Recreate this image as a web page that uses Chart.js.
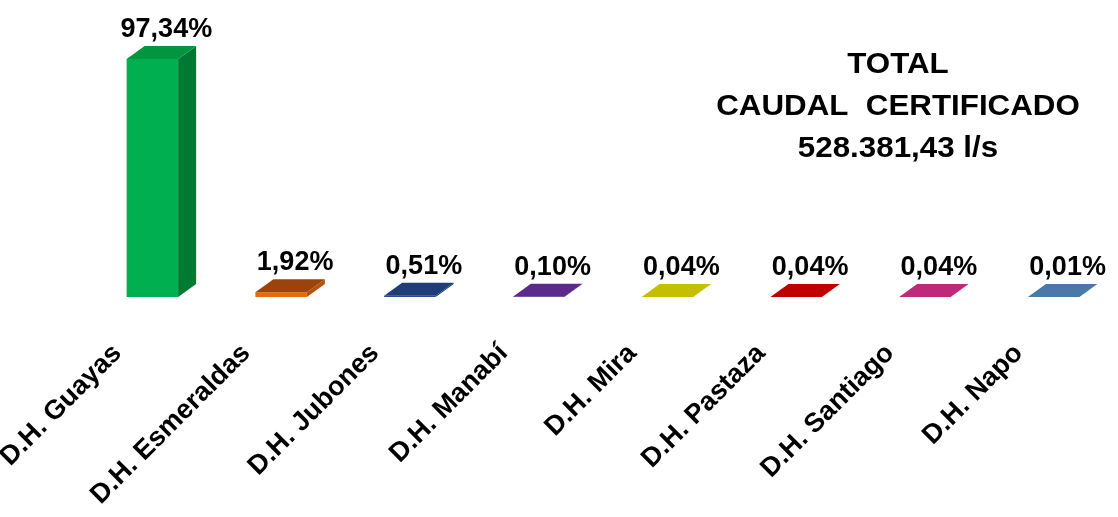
<!DOCTYPE html>
<html>
<head>
<meta charset="utf-8">
<script src="https://cdn.jsdelivr.net/npm/chart.js@4"></script>
<style>
  body { margin: 0; background: #fff; }
  #wrap { width: 1118px; height: 517px; position: relative; }
</style>
</head>
<body>
<div id="wrap"><canvas id="myChart"></canvas></div>
<script>
// data
const categories = ['D.H. Guayas', 'D.H. Esmeraldas', 'D.H. Jubones', 'D.H. Manabí',
                    'D.H. Mira', 'D.H. Pastaza', 'D.H. Santiago', 'D.H. Napo'];
const percentages = [97.34, 1.92, 0.51, 0.10, 0.04, 0.04, 0.04, 0.01];
const valueLabels = ['97,34%', '1,92%', '0,51%', '0,10%', '0,04%', '0,04%', '0,04%', '0,01%'];
const titleLines = ['TOTAL', 'CAUDAL  CERTIFICADO', '528.381,43 l/s'];

// bar faces: front / top / side
const frontColors = ['#00b050', '#e36c0a', '#284f8f', '#7030a0', '#dcd800', '#e00000', '#de3590', '#5a8cc4'];
const topColors   = ['#00963f', '#9c420a', '#1f3d78', '#5b2a8c', '#c4c000', '#c00000', '#c0297a', '#4a78a8'];
const sideColors  = ['#007a33', '#b4520a', '#1a3466', '#4c2277', '#a8a500', '#a00000', '#a82268', '#3f6892'];

const FONT = '"Liberation Sans", Arial, sans-serif';
const DEPTH_X = 18;
const DEPTH_Y = 13;

// draws the top and side of each bar, the value labels, the rotated category labels and the title
const bar3d = {
    id: 'bar3d',
    afterDatasetsDraw(chart) {
        const ctx = chart.ctx;
        const meta = chart.getDatasetMeta(0);
        const xScale = chart.scales.x;
        ctx.save();
        meta.data.forEach((bar, i) => {
            const { x, y, base, width } = bar.getProps(['x', 'y', 'base', 'width'], true);
            const left = x - width / 2;
            const right = x + width / 2;

            // side face
            ctx.fillStyle = sideColors[i];
            ctx.beginPath();
            ctx.moveTo(right, y);
            ctx.lineTo(right + DEPTH_X, y - DEPTH_Y);
            ctx.lineTo(right + DEPTH_X, base - DEPTH_Y);
            ctx.lineTo(right, base);
            ctx.closePath();
            ctx.fill();

            // top face
            ctx.fillStyle = topColors[i];
            ctx.beginPath();
            ctx.moveTo(left, y);
            ctx.lineTo(left + DEPTH_X, y - DEPTH_Y);
            ctx.lineTo(right + DEPTH_X, y - DEPTH_Y);
            ctx.lineTo(right, y);
            ctx.closePath();
            ctx.fill();

            // value label
            ctx.fillStyle = '#000';
            ctx.font = 'bold 27px ' + FONT;
            ctx.textAlign = 'center';
            ctx.textBaseline = 'alphabetic';
            ctx.fillText(valueLabels[i], x + 14, y - DEPTH_Y - 9);
        });

        // category labels, rotated
        ctx.font = 'bold 27px ' + FONT;
        ctx.textAlign = 'right';
        ctx.textBaseline = 'middle';
        categories.forEach((c, i) => {
            const px = xScale.getPixelForValue(i);
            ctx.save();
            ctx.translate(px - 35, 349);
            ctx.rotate(-Math.PI / 4);
            ctx.fillText(c, 0, 0);
            ctx.restore();
        });

        // title block, a bit wider than the plain font
        ctx.font = 'bold 29px ' + FONT;
        ctx.textAlign = 'center';
        titleLines.forEach((t, i) => {
            ctx.save();
            ctx.translate(898, 65 + i * 42);
            ctx.scale(1.08, 1);
            ctx.fillText(t, 0, 0);
            ctx.restore();
        });
        ctx.restore();
    }
};

const ctx = document.getElementById('myChart').getContext('2d');
new Chart(ctx, {
    type: 'bar',
    data: {
        labels: categories,
        datasets: [{
            label: 'Caudal certificado',
            data: percentages,
            backgroundColor: frontColors,
            borderWidth: 0,
            categoryPercentage: 1,
            barPercentage: 0.4
        }]
    },
    options: {
        responsive: true,
        maintainAspectRatio: false,
        animation: false,
        layout: {
            padding: { left: 88, right: 0, top: 28, bottom: 220 }
        },
        plugins: {
            legend: { display: false },
            tooltip: { enabled: false }
        },
        scales: {
            x: { display: false },
            y: { display: false, min: 0, max: 110 }
        }
    },
    plugins: [bar3d]
});
</script>
</body>
</html>
